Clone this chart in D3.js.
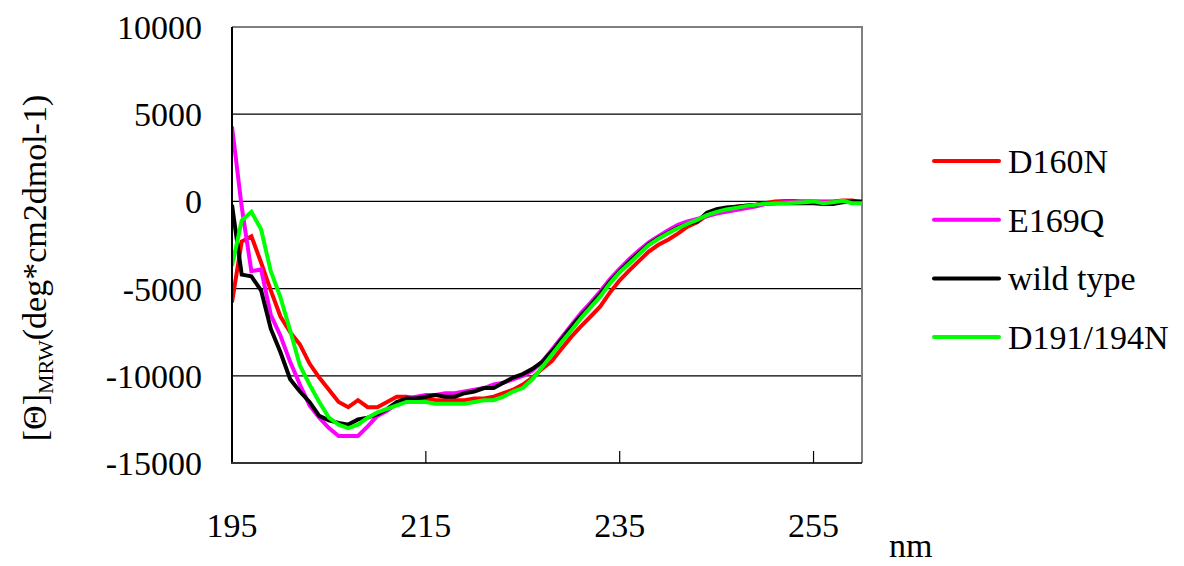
<!DOCTYPE html>
<html>
<head>
<meta charset="utf-8">
<script src="https://cdn.jsdelivr.net/npm/d3@7/dist/d3.min.js"></script>
<style>
  html, body { margin: 0; padding: 0; background: #ffffff; }
  svg { display: block; }
</style>
</head>
<body>
<svg id="chart" width="1184" height="566"></svg>
<script>
// Wavelength (nm)
const wavelengths = [195,196,197,198,199,200,201,202,203,204,205,206,207,208,209,210,
  211,212,213,214,215,216,217,218,219,220,221,222,223,224,225,226,227,228,229,230,
  231,232,233,234,235,236,237,238,239,240,241,242,243,244,245,246,247,248,249,250,
  251,252,253,254,255,256,257,258,259,260];

// Mean residue ellipticity for each construct
const d160n = [-5800,-2300,-2000,-3500,-5100,-6600,-7500,-8200,-9300,-10100,-10800,-11500,
  -11800,-11400,-11800,-11800,-11500,-11200,-11200,-11300,-11300,-11400,-11400,-11400,
  -11400,-11300,-11300,-11200,-11000,-10800,-10500,-10100,-9600,-9160,-8450,-7770,
  -7170,-6600,-6020,-5220,-4520,-3960,-3410,-2880,-2490,-2200,-1850,-1450,-1200,-800,
  -600,-450,-300,-250,-200,-100,0,30,30,0,0,0,0,50,50,-50];

const e169q = [4300,-300,-4000,-3900,-6500,-7700,-9200,-10500,-11700,-12400,-13000,-13450,
  -13450,-13450,-12900,-12300,-12000,-11600,-11300,-11200,-11100,-11100,-11000,-11000,
  -10900,-10800,-10700,-10500,-10400,-10200,-10000,-9700,-9200,-8500,-7800,-7100,
  -6400,-5800,-5150,-4450,-3850,-3300,-2800,-2350,-2000,-1650,-1350,-1150,-1000,-850,
  -700,-600,-500,-400,-300,-150,-100,-50,-50,0,0,-50,-50,0,-50,-100];

const wildType = [-200,-4200,-4300,-5100,-7300,-8650,-10200,-10900,-11500,-12300,-12550,-12700,
  -12800,-12500,-12400,-12200,-11900,-11500,-11300,-11300,-11200,-11100,-11200,-11200,
  -11000,-10900,-10700,-10700,-10400,-10100,-9900,-9600,-9200,-8600,-7900,-7200,
  -6550,-5950,-5300,-4600,-4000,-3450,-2950,-2450,-2100,-1800,-1500,-1300,-1150,-650,
  -450,-350,-300,-250,-200,-100,-100,-100,-100,-100,-100,-150,-150,-50,0,0];

const d191n = [-3700,-1100,-600,-1600,-4000,-5500,-7400,-9400,-10500,-11500,-12400,-12800,
  -13000,-12800,-12400,-12100,-11900,-11700,-11500,-11500,-11500,-11600,-11600,-11600,
  -11600,-11500,-11400,-11400,-11200,-10900,-10700,-10200,-9500,-8790,-8080,-7400,
  -6700,-6080,-5450,-4700,-4060,-3560,-3030,-2500,-2140,-1820,-1540,-1290,-1060,-780,
  -600,-460,-370,-270,-200,-130,-100,-100,-80,-50,0,-100,-50,40,-100,-100];

const seriesNames = ["D160N", "E169Q", "wild type", "D191/194N"];
const seriesColors = ["#ff0000", "#ff00ff", "#000000", "#00ff00"];
const seriesValues = [d160n, e169q, wildType, d191n];

const xTicks = [195, 215, 235, 255];
const yTicks = [10000, 5000, 0, -5000, -10000, -15000];

const serif = "'Liberation Serif', 'Times New Roman', Tinos, 'Noto Serif', 'DejaVu Serif', 'Noto Serif CJK SC', serif";
const fontSize = 34;

// Plot frame
const plotLeft = 232, plotTop = 27, plotRight = 862, plotBottom = 463;

const svg = d3.select("#chart").attr("font-family", serif);

const x = d3.scaleLinear().domain([195, 260]).range([plotLeft, plotRight]);
const y = d3.scaleLinear().domain([-15000, 10000]).range([plotBottom, plotTop]);

// Horizontal gridlines
svg.append("g")
  .selectAll("line")
  .data(yTicks.filter(v => v > -15000 && v < 10000))
  .join("line")
  .attr("x1", plotLeft).attr("x2", plotRight)
  .attr("y1", d => y(d)).attr("y2", d => y(d))
  .attr("stroke", "#000").attr("stroke-width", 1.2);

// Top and right frame edges
svg.append("path")
  .attr("d", `M${plotLeft},${plotTop}H${plotRight}V${plotBottom}`)
  .attr("fill", "none").attr("stroke", "#7f7f7f").attr("stroke-width", 2);

// Clip region for the curves
svg.append("clipPath").attr("id", "plotClip")
  .append("rect").attr("x", plotLeft).attr("y", plotTop)
  .attr("width", plotRight - plotLeft).attr("height", plotBottom - plotTop);

const line = d3.line()
  .x((d, i) => x(wavelengths[i]))
  .y(d => y(d));

svg.append("g").attr("clip-path", "url(#plotClip)")
  .selectAll("path")
  .data(seriesValues)
  .join("path")
  .attr("d", d => line(d))
  .attr("fill", "none")
  .attr("stroke", (d, i) => seriesColors[i])
  .attr("stroke-width", 4)
  .attr("stroke-linejoin", "miter")
  .attr("stroke-miterlimit", 3);

// Axis lines
svg.append("line")
  .attr("x1", plotLeft).attr("x2", plotLeft).attr("y1", plotTop).attr("y2", plotBottom + 1)
  .attr("stroke", "#000").attr("stroke-width", 2);
svg.append("line")
  .attr("x1", plotLeft - 1).attr("x2", plotRight).attr("y1", plotBottom).attr("y2", plotBottom)
  .attr("stroke", "#333").attr("stroke-width", 2);

// Inward x ticks
svg.append("g")
  .selectAll("line")
  .data(xTicks.filter(v => v > 195))
  .join("line")
  .attr("x1", d => x(d)).attr("x2", d => x(d))
  .attr("y1", plotBottom).attr("y2", plotBottom - 12)
  .attr("stroke", "#000").attr("stroke-width", 1.2);

// Y tick labels
svg.append("g")
  .selectAll("text")
  .data(yTicks)
  .join("text")
  .attr("x", 202)
  .attr("y", d => y(d) + 12)
  .attr("text-anchor", "end")
  .attr("font-size", fontSize)
  .text(d => d);

// X tick labels
svg.append("g")
  .selectAll("text")
  .data(xTicks)
  .join("text")
  .attr("x", d => x(d))
  .attr("y", 537)
  .attr("text-anchor", "middle")
  .attr("font-size", fontSize)
  .text(d => d);

// X unit
svg.append("text")
  .attr("x", 889).attr("y", 557)
  .attr("font-size", fontSize)
  .text("nm");

// Y axis title
const yTitle = svg.append("text")
  .attr("transform", "translate(46,268) rotate(-90)")
  .attr("text-anchor", "middle")
  .attr("font-size", fontSize);
yTitle.append("tspan").text("[Θ]");
yTitle.append("tspan").attr("font-size", 22).attr("dy", 7).text("MRW");
yTitle.append("tspan").attr("dy", -7).text("(deg*cm2dmol-1)");

// Legend
const legend = svg.append("g")
  .selectAll("g")
  .data(seriesNames)
  .join("g")
  .attr("transform", (d, i) => `translate(0,${161 + i * 58.7})`);
legend.append("line")
  .attr("x1", 934).attr("x2", 999)
  .attr("stroke", (d, i) => seriesColors[i])
  .attr("stroke-width", 4)
  .attr("stroke-linecap", "round");
legend.append("text")
  .attr("x", 1008).attr("y", 12)
  .attr("font-size", fontSize)
  .text(d => d);
</script>
</body>
</html>
